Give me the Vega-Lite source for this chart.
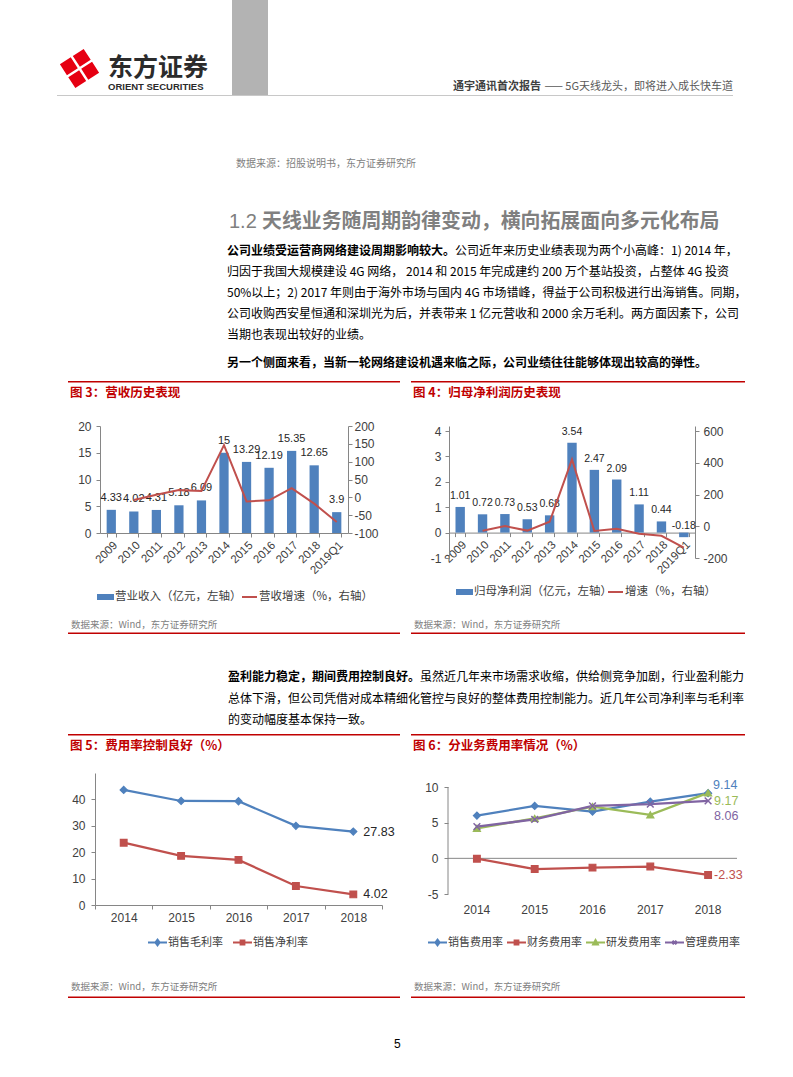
{
"$schema": "https://vega.github.io/schema/vega-lite/v6.json",
"padding": 0,
"background": "#ffffff",
"datasets": {
 "rev": [
  {"year":"2009","rev":4.33,"g":null},
  {"year":"2010","rev":4.02,"g":-7.2},
  {"year":"2011","rev":4.31,"g":7.2},
  {"year":"2012","rev":5.18,"g":20.2},
  {"year":"2013","rev":6.09,"g":17.6},
  {"year":"2014","rev":15,"g":146.3},
  {"year":"2015","rev":13.29,"g":-11.4},
  {"year":"2016","rev":12.19,"g":-8.3},
  {"year":"2017","rev":15.35,"g":25.9},
  {"year":"2018","rev":12.65,"g":-17.6},
  {"year":"2019Q1","rev":3.9,"g":-69}
 ],
 "np": [
  {"year":"2009","np":1.01,"g":null},
  {"year":"2010","np":0.72,"g":-28.7},
  {"year":"2011","np":0.73,"g":1.4},
  {"year":"2012","np":0.53,"g":-27.4},
  {"year":"2013","np":0.68,"g":28.3},
  {"year":"2014","np":3.54,"g":420.6},
  {"year":"2015","np":2.47,"g":-30.2},
  {"year":"2016","np":2.09,"g":-15.4},
  {"year":"2017","np":1.11,"g":-46.9},
  {"year":"2018","np":0.44,"g":-60.4},
  {"year":"2019Q1","np":-0.18,"g":-134}
 ],
 "margin": [
  {"year":"2014","s":"销售毛利率","v":43.6},
  {"year":"2015","s":"销售毛利率","v":39.4},
  {"year":"2016","s":"销售毛利率","v":39.3},
  {"year":"2017","s":"销售毛利率","v":30},
  {"year":"2018","s":"销售毛利率","v":27.83},
  {"year":"2014","s":"销售净利率","v":23.6},
  {"year":"2015","s":"销售净利率","v":18.6},
  {"year":"2016","s":"销售净利率","v":17.1},
  {"year":"2017","s":"销售净利率","v":7.2},
  {"year":"2018","s":"销售净利率","v":4.02}
 ],
 "fee": [
  {"year":"2014","s":"销售费用率","v":5.99},
  {"year":"2015","s":"销售费用率","v":7.35},
  {"year":"2016","s":"销售费用率","v":6.55},
  {"year":"2017","s":"销售费用率","v":7.95},
  {"year":"2018","s":"销售费用率","v":9.14},
  {"year":"2014","s":"财务费用率","v":-0.05},
  {"year":"2015","s":"财务费用率","v":-1.5},
  {"year":"2016","s":"财务费用率","v":-1.3},
  {"year":"2017","s":"财务费用率","v":-1.15},
  {"year":"2018","s":"财务费用率","v":-2.33},
  {"year":"2014","s":"研发费用率","v":4.2},
  {"year":"2015","s":"研发费用率","v":5.6},
  {"year":"2016","s":"研发费用率","v":7.25},
  {"year":"2017","s":"研发费用率","v":6.1},
  {"year":"2018","s":"研发费用率","v":9.17},
  {"year":"2014","s":"管理费用率","v":4.45},
  {"year":"2015","s":"管理费用率","v":5.45},
  {"year":"2016","s":"管理费用率","v":7.35},
  {"year":"2017","s":"管理费用率","v":7.6},
  {"year":"2018","s":"管理费用率","v":8.06}
 ]
},
"spacing": 47, "bounds": "flush",
"vconcat": [
 {"hconcat":[
  {"width":232,"height":47,"data":{"values":[]},"mark":"text","view":{"fill":"#ffffff"}},
  {"width":36,"height":95,"data":{"values":[]},"mark":"text","view":{"fill":"#b3b3b3"}}
 ],"spacing":0,"bounds":"flush"},
 {"vconcat":[
  {"hconcat":[
   {"width":57,"height":43,"data":{"values":[]},"mark":"text"},
   {"width":45,"height":43,"data":{"values":[{}]},"mark":{"type":"point","shape":"M0,-0.92L0.42,-0.5L0,-0.08L-0.42,-0.5ZM0.92,0L0.5,0.42L0.08,0L0.5,-0.42ZM0,0.92L-0.42,0.5L0,0.08L0.42,0.5ZM-0.92,0L-0.5,-0.42L-0.08,0L-0.5,0.42Z","size":1900,"filled":true,"color":"#e60012","opacity":1,"angle":12}},
   {"width":130,"height":43,"data":{"values":[]},"mark":"text","title":{"text":"东方证券","subtitle":"ORIENT  SECURITIES","fontSize":25,"fontWeight":"bold","color":"#2b2b2b","subtitleFontSize":9.5,"subtitleFontWeight":"bold","subtitleColor":"#2b2b2b","subtitleFont":"Liberation Sans","subtitlePadding":1,"offset":-44,"dx":6}},
   {"width":221,"height":43,"data":{"values":[]},"mark":"text"},
   {"width":1,"height":43,"data":{"values":[]},"mark":"text","title":{"text":"通宇通讯首次报告","fontSize":11,"fontWeight":"bold","color":"#404040","offset":-44.5}},
   {"width":279,"height":43,"data":{"values":[]},"mark":"text","title":{"text":"—— 5G天线龙头，即将进入成长快车道","fontSize":11,"color":"#595959","anchor":"end","offset":-44.5}}
  ],"spacing":0,"bounds":"flush"},
  {"vconcat":[
   {"hconcat":[
    {"width":57,"height":1,"data":{"values":[]},"mark":"text"},
    {"width":676,"height":1,"data":{"values":[]},"mark":"text","view":{"fill":"#c8c8c8"}}
   ],"spacing":0,"bounds":"flush"},
   {"vconcat":[
    {"hconcat":[
     {"width":223,"height":285,"data":{"values":[]},"mark":"text"},
     {"width":1,"height":285,"data":{"values":[]},"mark":"text","title":{"text":"数据来源：招股说明书，东方证券研究所","fontSize":10,"color":"#7f7f7f","offset":-73,"dx":13}},
     {"width":1,"height":285,"data":{"values":[]},"mark":"text","title":{"text":"1.2","font":"Liberation Sans","fontSize":20,"color":"#808080","offset":-136,"dx":5}},
     {"width":1,"height":285,"data":{"values":[]},"mark":"text","title":{"text":"天线业务随周期韵律变动，横向拓展面向多元化布局","fontSize":19.9,"fontWeight":"bold","color":"#808080","offset":-136,"dx":37}},
     {"width":1,"height":285,"data":{"values":[]},"mark":"text","title":{"text":["归因于我国大规模建设 4G 网络， 2014 和 2015 年完成建约 200 万个基站投资，占整体 4G 投资","50%以上；2) 2017 年则由于海外市场与国内 4G 市场错峰，得益于公司积极进行出海销售。同期，","公司收购西安星恒通和深圳光为后，并表带来 1 亿元营收和 2000 余万毛利。两方面因素下，公司","当期也表现出较好的业绩。"],"fontSize":12,"lineHeight":21,"offset":-246,"dx":1}},
     {"width":1,"height":285,"data":{"values":[]},"mark":"text","title":{"text":"另一个侧面来看，当新一轮网络建设机遇来临之际，公司业绩往往能够体现出较高的弹性。","fontSize":12,"fontWeight":"bold","offset":-274,"dx":0}},
     {"width":228,"height":285,"data":{"values":[]},"mark":"text","title":{"text":"公司业绩受运营商网络建设周期影响较大。","fontSize":12,"fontWeight":"bold","offset":-162,"dx":-1}},
     {"width":1,"height":285,"data":{"values":[]},"mark":"text","title":{"text":"公司近年来历史业绩表现为两个小高峰：1) 2014 年，","fontSize":12,"offset":-162,"dx":-1}}
    ],"spacing":0,"bounds":"flush"},
    {"vconcat":[
     {"hconcat":[
      {"width":68,"height":1.5,"data":{"values":[]},"mark":"text"},
      {"width":332,"height":1.5,"data":{"values":[]},"mark":"text","view":{"fill":"#c00000"}},
      {"width":11,"height":1.5,"data":{"values":[]},"mark":"text"},
      {"width":334,"height":1.5,"data":{"values":[]},"mark":"text","view":{"fill":"#c00000"}}
     ],"spacing":0,"bounds":"flush"},
     {"vconcat":[
      {"hconcat":[
       {"width":68,"height":43.5,"data":{"values":[]},"mark":"text"},
       {"width":343,"height":43.5,"data":{"values":[]},"mark":"text","title":{"text":"图 3：营收历史表现","fontSize":12.5,"fontWeight":"bold","color":"#c00000","offset":-16.5,"dx":2}},
       {"width":1,"height":43.5,"data":{"values":[]},"mark":"text","title":{"text":"图 4：归母净利润历史表现","fontSize":12.5,"fontWeight":"bold","color":"#c00000","offset":-16.5,"dx":2}}
      ],"spacing":0,"bounds":"flush"},
      {"vconcat":[
       {"hconcat":[
        {"width":100,"height":132,"data":{"values":[]},"mark":"text"},
        {
         "width":248,"height":107,
         "data":{"name":"rev"},
         "layer":[
          {"encoding":{
             "x":{"field":"year","type":"ordinal","scale":{"paddingInner":0.59,"paddingOuter":0.295},"axis":{"labelAngle":-45,"tickBand":"extent","title":null,"labelFontSize":11.5,"labelPadding":2}},
             "y":{"field":"rev","type":"quantitative","scale":{"domain":[0,20],"nice":false},"axis":{"values":[0,5,10,15,20],"title":null,"labelPadding":5}}
           },
           "layer":[
           {"mark":{"type":"bar","color":"#4F81BD"}},
           {"mark":{"type":"text","dy":-12,"font":"Liberation Sans","fontSize":11,"color":"#262626"},
            "encoding":{"text":{"field":"rev","type":"nominal"}}}
          ]},
          {"mark":{"type":"line","strokeWidth":2,"color":"#C0504D"},
           "encoding":{
            "x":{"field":"year","type":"ordinal"},
            "y":{"field":"g","type":"quantitative","scale":{"domain":[-100,200],"nice":false},"axis":{"orient":"right","values":[-100,-50,0,50,100,150,200],"title":null,"labelPadding":2}}}}
         ],
         "resolve":{"scale":{"y":"independent"}}
        },
        {"width":101,"height":132,"data":{"values":[]},"mark":"text"},
        {
         "width":246,"height":132,
         "data":{"name":"np"},
         "layer":[
          {"encoding":{
             "x":{"field":"year","type":"ordinal","scale":{"paddingInner":0.58,"paddingOuter":0.29},"axis":{"labelAngle":-45,"tickBand":"extent","offset":-25.4,"title":null,"labelFontSize":11.5,"labelPadding":2}},
             "y":{"field":"np","type":"quantitative","scale":{"domain":[-1,4.19685],"nice":false},"axis":{"values":[-1,0,1,2,3,4],"title":null,"labelPadding":4}}
           },
           "layer":[
           {"mark":{"type":"bar","color":"#4F81BD"}},
           {"mark":{"type":"text","dy":-11,"font":"Liberation Sans","fontSize":10.5,"color":"#262626"},
            "encoding":{"text":{"field":"np","type":"nominal"}}}
          ]},
          {"mark":{"type":"line","strokeWidth":2,"color":"#C0504D"},
           "encoding":{
            "x":{"field":"year","type":"ordinal"},
            "y":{"field":"g","type":"quantitative","scale":{"domain":[-200,631.5],"nice":false},"axis":{"orient":"right","values":[-200,0,200,400,600],"title":null,"labelPadding":4}}}}
         ],
         "resolve":{"scale":{"y":"independent"}}
        }
       ],"spacing":0,"bounds":"flush"},
       {"vconcat":[
        {"hconcat":[
         {"width":98,"height":14,"data":{"values":[]},"mark":"text"},
         {"width":288,"height":14,
          "data":{"values":[{"k":"营业收入（亿元，左轴）"},{"k":"营收增速（%，右轴）"}]},
          "encoding":{"x":{"field":"k","type":"nominal","bandPosition":0,"scale":{"type":"band","domain":["营业收入（亿元，左轴）","营收增速（%，右轴）"],"paddingInner":0,"paddingOuter":0},"axis":null}},
          "layer":[
           {"mark":{"type":"point","filled":true,"opacity":1,"size":225,"strokeWidth":2,"xOffset":7.5},
            "encoding":{
             "color":{"field":"k","type":"nominal","scale":{"domain":["营业收入（亿元，左轴）","营收增速（%，右轴）","归母净利润（亿元，左轴）","增速（%，右轴）","销售毛利率","销售净利率","销售费用率","财务费用率","研发费用率","管理费用率"],"range":["#4F81BD","#C0504D","#4F81BD","#C0504D","#4F81BD","#C0504D","#4F81BD","#C0504D","#9BBB59","#8064A2"]},"legend":null},
             "stroke":{"field":"k","type":"nominal","scale":{"domain":["营业收入（亿元，左轴）","营收增速（%，右轴）","归母净利润（亿元，左轴）","增速（%，右轴）","销售毛利率","销售净利率","销售费用率","财务费用率","研发费用率","管理费用率"],"range":["#4F81BD","#C0504D","#4F81BD","#C0504D","#4F81BD","#C0504D","#4F81BD","#C0504D","#9BBB59","#8064A2"]},"legend":null},
             "shape":{"field":"k","type":"nominal","scale":{"domain":["营业收入（亿元，左轴）","营收增速（%，右轴）","归母净利润（亿元，左轴）","增速（%，右轴）","销售毛利率","销售净利率","销售费用率","财务费用率","研发费用率","管理费用率"],"range":["M-1,-0.27L1,-0.27L1,0.27L-1,0.27Z","M-1,0L1,0","M-1,-0.27L1,-0.27L1,0.27L-1,0.27Z","M-1,0L1,0","M-1,0L1,0M0,-0.3L0.22,0L0,0.3L-0.22,0Z","M-1,0L1,0M-0.2,-0.2L0.2,-0.2L0.2,0.2L-0.2,0.2Z","M-1,0L1,0M0,-0.3L0.22,0L0,0.3L-0.22,0Z","M-1,0L1,0M-0.2,-0.2L0.2,-0.2L0.2,0.2L-0.2,0.2Z","M-1,0L1,0M0,-0.26L0.25,0.2L-0.25,0.2Z","M-1,0L1,0M-0.2,-0.2L0.2,0.2M-0.2,0.2L0.2,-0.2"]},"legend":null}}},
           {"mark":{"type":"text","align":"left","dx":17,"fontSize":11.5,"color":"#404040","font":"Noto Sans CJK SC"},
            "encoding":{"text":{"field":"k","type":"nominal"}}}
          ]},
         {"width":71,"height":14,"data":{"values":[]},"mark":"text"},
         {"width":302,"height":4,
          "data":{"values":[{"k":"归母净利润（亿元，左轴）"},{"k":"增速（%，右轴）"}]},
          "encoding":{"x":{"field":"k","type":"nominal","bandPosition":0,"scale":{"type":"band","domain":["归母净利润（亿元，左轴）","增速（%，右轴）"],"paddingInner":0,"paddingOuter":0},"axis":null}},
          "layer":[
           {"mark":{"type":"point","filled":true,"opacity":1,"size":225,"strokeWidth":2,"xOffset":7.5},
            "encoding":{
             "color":{"field":"k","type":"nominal","legend":null},
             "stroke":{"field":"k","type":"nominal","legend":null},
             "shape":{"field":"k","type":"nominal","legend":null}}},
           {"mark":{"type":"text","align":"left","dx":17,"fontSize":11.5,"color":"#404040","font":"Noto Sans CJK SC"},
            "encoding":{"text":{"field":"k","type":"nominal"}}}
          ]}
        ],"spacing":0,"bounds":"flush"},
        {"vconcat":[
         {"hconcat":[
          {"width":68,"height":28.5,"data":{"values":[]},"mark":"text"},
          {"width":343,"height":28.5,"data":{"values":[]},"mark":"text","title":{"text":"数据来源：Wind，东方证券研究所","fontSize":9.5,"color":"#808080","offset":-25.75,"dx":3}},
          {"width":1,"height":28.5,"data":{"values":[]},"mark":"text","title":{"text":"数据来源：Wind，东方证券研究所","fontSize":9.5,"color":"#808080","offset":-25.75,"dx":3}}
         ],"spacing":0,"bounds":"flush"},
         {"vconcat":[
          {"hconcat":[
           {"width":68,"height":1.5,"data":{"values":[]},"mark":"text"},
           {"width":332,"height":1.5,"data":{"values":[]},"mark":"text","view":{"fill":"#c00000"}},
           {"width":11,"height":1.5,"data":{"values":[]},"mark":"text"},
           {"width":334,"height":1.5,"data":{"values":[]},"mark":"text","view":{"fill":"#c00000"}}
          ],"spacing":0,"bounds":"flush"},
          {"vconcat":[
           {"hconcat":[
            {"width":227,"height":100,"data":{"values":[]},"mark":"text"},
            {"width":1,"height":100,"data":{"values":[]},"mark":"text","title":{"text":["总体下滑，但公司凭借对成本精细化管控与良好的整体费用控制能力。近几年公司净利率与毛利率","的变动幅度基本保持一致。"],"fontSize":12,"lineHeight":21,"offset":-93,"dx":1}},
            {"width":192,"height":100,"data":{"values":[]},"mark":"text","title":{"text":"盈利能力稳定，期间费用控制良好。","fontSize":12,"fontWeight":"bold","offset":-50}},
            {"width":1,"height":100,"data":{"values":[]},"mark":"text","title":{"text":"虽然近几年来市场需求收缩，供给侧竞争加剧，行业盈利能力","fontSize":12,"offset":-50}}
           ],"spacing":0,"bounds":"flush"},
           {"vconcat":[
            {"hconcat":[
             {"width":68,"height":1.5,"data":{"values":[]},"mark":"text"},
             {"width":332,"height":1.5,"data":{"values":[]},"mark":"text","view":{"fill":"#c00000"}},
             {"width":11,"height":1.5,"data":{"values":[]},"mark":"text"},
             {"width":334,"height":1.5,"data":{"values":[]},"mark":"text","view":{"fill":"#c00000"}}
            ],"spacing":0,"bounds":"flush"},
            {"vconcat":[
             {"hconcat":[
              {"width":68,"height":37.5,"data":{"values":[]},"mark":"text"},
              {"width":343,"height":37.5,"data":{"values":[]},"mark":"text","title":{"text":"图 5：费用率控制良好（%）","fontSize":12.5,"fontWeight":"bold","color":"#c00000","offset":-16.5,"dx":2}},
              {"width":1,"height":37.5,"data":{"values":[]},"mark":"text","title":{"text":"图 6：分业务费用率情况（%）","fontSize":12.5,"fontWeight":"bold","color":"#c00000","offset":-16.5,"dx":2}}
             ],"spacing":0,"bounds":"flush"},
             {"vconcat":[
              {"hconcat":[
               {"width":95,"height":132,"data":{"values":[]},"mark":"text"},
               {
                "width":287,"height":132,
                "data":{"name":"margin"},
                "encoding":{
                 "x":{"field":"year","type":"ordinal","scale":{"paddingInner":0,"paddingOuter":0},"axis":{"labelAngle":0,"tickBand":"extent","title":null,"labelPadding":3}},
                 "y":{"field":"v","type":"quantitative","scale":{"domain":[0,50],"nice":false},"axis":{"values":[0,10,20,30,40],"title":null,"labelPadding":6}}
                },
                "layer":[
                 {"mark":{"type":"line","strokeWidth":2.25},
                  "encoding":{"color":{"field":"s","type":"nominal","legend":null}}},
                 {"transform":[{"filter":"datum.s === '销售毛利率'"}],
                  "mark":{"type":"point","shape":"diamond","filled":true,"opacity":1,"size":50,"color":"#4F81BD","stroke":"#4F81BD","strokeWidth":1.2}},
                 {"transform":[{"filter":"datum.s === '销售净利率'"}],
                  "mark":{"type":"point","shape":"square","filled":true,"opacity":1,"size":45,"color":"#C0504D","stroke":"#C0504D","strokeWidth":1.2}},
                 {"transform":[{"filter":"datum.year === '2018'"}],
                  "mark":{"type":"text","align":"left","dx":10,"font":"Liberation Sans","fontSize":12.5,"color":"#262626"},
                  "encoding":{"text":{"field":"v","type":"nominal"}}}
                ]
               },
               {"width":66,"height":132,"data":{"values":[]},"mark":"text"},
               {
                "width":289,"height":121,
                "data":{"name":"fee"},
                "layer":[
                 {"data":{"values":[{}]},"mark":{"type":"rule","color":"#868686","strokeWidth":1},
                  "encoding":{"y":{"datum":0,"type":"quantitative","axis":{"values":[-5,0,5,10],"domain":false,"title":null,"labelPadding":6}}}},
                 {"data":{"values":[{}]},"mark":{"type":"rule","color":"#868686","strokeWidth":1},
                  "encoding":{
                   "x":{"datum":"2014","type":"ordinal","bandPosition":0,"axis":{"domain":false,"ticks":false,"labelAngle":0,"labelPadding":10,"title":null}},
                   "y":{"datum":-5,"type":"quantitative","axis":{"values":[-5,0,5,10],"domain":false,"title":null,"labelPadding":6}},
                   "y2":{"datum":10}}},
                 {"mark":{"type":"line","strokeWidth":2.25},
                  "encoding":{
                   "x":{"field":"year","type":"ordinal","scale":{"paddingInner":0,"paddingOuter":0},"axis":{"domain":false,"ticks":false,"labelAngle":0,"labelPadding":10,"title":null}},
                   "y":{"field":"v","type":"quantitative","scale":{"domain":[-5,11.963],"nice":false},"axis":{"values":[-5,0,5,10],"domain":false,"title":null,"labelPadding":6}},
                   "color":{"field":"s","type":"nominal","legend":null}}},
                 {"transform":[{"filter":"datum.s === '销售费用率'"}],
                  "mark":{"type":"point","shape":"diamond","filled":true,"opacity":1,"size":50,"color":"#4F81BD","stroke":"#4F81BD","strokeWidth":1.2},
                  "encoding":{"x":{"field":"year","type":"ordinal"},"y":{"field":"v","type":"quantitative"}}},
                 {"transform":[{"filter":"datum.s === '财务费用率'"}],
                  "mark":{"type":"point","shape":"square","filled":true,"opacity":1,"size":45,"color":"#C0504D","stroke":"#C0504D","strokeWidth":1.2},
                  "encoding":{"x":{"field":"year","type":"ordinal"},"y":{"field":"v","type":"quantitative"}}},
                 {"transform":[{"filter":"datum.s === '研发费用率'"}],
                  "mark":{"type":"point","shape":"triangle-up","filled":true,"opacity":1,"size":50,"color":"#9BBB59","stroke":"#9BBB59","strokeWidth":1.2},
                  "encoding":{"x":{"field":"year","type":"ordinal"},"y":{"field":"v","type":"quantitative"}}},
                 {"transform":[{"filter":"datum.s === '管理费用率'"}],
                  "mark":{"type":"point","shape":"M-1,-1L1,1M-1,1L1,-1","filled":false,"opacity":1,"size":45,"color":"#8064A2","strokeWidth":1.5},
                  "encoding":{"x":{"field":"year","type":"ordinal"},"y":{"field":"v","type":"quantitative"}}},
                 {"transform":[{"filter":"datum.year === '2018' && datum.s === '销售费用率'"}],
                  "mark":{"type":"text","align":"left","dx":5,"dy":-8,"font":"Liberation Sans","fontSize":12.5},
                  "encoding":{"x":{"field":"year","type":"ordinal"},"y":{"field":"v","type":"quantitative"},"text":{"field":"v","type":"nominal"},"color":{"field":"s","type":"nominal","legend":null}}},
                 {"transform":[{"filter":"datum.year === '2018' && datum.s === '研发费用率'"}],
                  "mark":{"type":"text","align":"left","dx":6,"dy":8,"font":"Liberation Sans","fontSize":12.5},
                  "encoding":{"x":{"field":"year","type":"ordinal"},"y":{"field":"v","type":"quantitative"},"text":{"field":"v","type":"nominal"},"color":{"field":"s","type":"nominal","legend":null}}},
                 {"transform":[{"filter":"datum.year === '2018' && datum.s === '管理费用率'"}],
                  "mark":{"type":"text","align":"left","dx":6,"dy":15,"font":"Liberation Sans","fontSize":12.5},
                  "encoding":{"x":{"field":"year","type":"ordinal"},"y":{"field":"v","type":"quantitative"},"text":{"field":"v","type":"nominal"},"color":{"field":"s","type":"nominal","legend":null}}},
                 {"transform":[{"filter":"datum.year === '2018' && datum.s === '财务费用率'"}],
                  "mark":{"type":"text","align":"left","dx":6,"dy":0,"font":"Liberation Sans","fontSize":12.5},
                  "encoding":{"x":{"field":"year","type":"ordinal"},"y":{"field":"v","type":"quantitative"},"text":{"field":"v","type":"nominal"},"color":{"field":"s","type":"nominal","legend":null}}}
                ]
               }
              ],"spacing":0,"bounds":"flush"},
              {"vconcat":[
               {"hconcat":[
                {"width":148,"height":15,"data":{"values":[]},"mark":"text"},
                {"width":170,"height":15,
                 "data":{"values":[{"k":"销售毛利率"},{"k":"销售净利率"}]},
                 "encoding":{"x":{"field":"k","type":"nominal","bandPosition":0,"scale":{"type":"band","domain":["销售毛利率","销售净利率"],"paddingInner":0,"paddingOuter":0},"axis":null}},
                 "layer":[
                  {"mark":{"type":"point","filled":true,"opacity":1,"size":361,"strokeWidth":2,"xOffset":9.5},
                   "encoding":{
                    "color":{"field":"k","type":"nominal","legend":null},
                    "stroke":{"field":"k","type":"nominal","legend":null},
                    "shape":{"field":"k","type":"nominal","legend":null}}},
                  {"mark":{"type":"text","align":"left","dx":20,"fontSize":11,"color":"#404040","font":"Noto Sans CJK SC"},
                   "encoding":{"text":{"field":"k","type":"nominal"}}}
                 ]},
                {"width":110,"height":15,"data":{"values":[]},"mark":"text"},
                {"width":316,"height":15,
                 "data":{"values":[{"k":"销售费用率"},{"k":"财务费用率"},{"k":"研发费用率"},{"k":"管理费用率"}]},
                 "encoding":{"x":{"field":"k","type":"nominal","bandPosition":0,"scale":{"type":"band","domain":["销售费用率","财务费用率","研发费用率","管理费用率"],"paddingInner":0,"paddingOuter":0},"axis":null}},
                 "layer":[
                  {"mark":{"type":"point","filled":true,"opacity":1,"size":361,"strokeWidth":2,"xOffset":9.5},
                   "encoding":{
                    "color":{"field":"k","type":"nominal","legend":null},
                    "stroke":{"field":"k","type":"nominal","legend":null},
                    "shape":{"field":"k","type":"nominal","legend":null}}},
                  {"mark":{"type":"text","align":"left","dx":20,"fontSize":11,"color":"#404040","font":"Noto Sans CJK SC"},
                   "encoding":{"text":{"field":"k","type":"nominal"}}}
                 ]}
               ],"spacing":0,"bounds":"flush"},
               {"vconcat":[
                {"hconcat":[
                 {"width":68,"height":46.5,"data":{"values":[]},"mark":"text"},
                 {"width":343,"height":46.5,"data":{"values":[]},"mark":"text","title":{"text":"数据来源：Wind，东方证券研究所","fontSize":9.5,"color":"#808080","offset":-41.75,"dx":3}},
                 {"width":1,"height":46.5,"data":{"values":[]},"mark":"text","title":{"text":"数据来源：Wind，东方证券研究所","fontSize":9.5,"color":"#808080","offset":-41.75,"dx":3}}
                ],"spacing":0,"bounds":"flush"},
                {"vconcat":[
                 {"hconcat":[
                  {"width":68,"height":1.5,"data":{"values":[]},"mark":"text"},
                  {"width":332,"height":1.5,"data":{"values":[]},"mark":"text","view":{"fill":"#c00000"}},
                  {"width":11,"height":1.5,"data":{"values":[]},"mark":"text"},
                  {"width":334,"height":1.5,"data":{"values":[]},"mark":"text","view":{"fill":"#c00000"}}
                 ],"spacing":0,"bounds":"flush"},
                 {"hconcat":[
                  {"width":394,"height":79,"data":{"values":[]},"mark":"text"},
                  {"width":1,"height":79,"data":{"values":[]},"mark":"text","title":{"text":"5","fontSize":12,"font":"Liberation Sans","offset":-53}}
                 ],"spacing":0,"bounds":"flush"}
                ],"spacing":1.5,"bounds":"flush"}
               ],"spacing":46.5,"bounds":"flush"}
              ],"spacing":15,"bounds":"flush"}
             ],"spacing":162,"bounds":"flush"}
            ],"spacing":37.5,"bounds":"flush"}
           ],"spacing":1.5,"bounds":"flush"}
          ],"spacing":100,"bounds":"flush"}
         ],"spacing":1.5,"bounds":"flush"}
        ],"spacing":28.5,"bounds":"flush"}
       ],"spacing":14,"bounds":"flush"}
      ],"spacing":164,"bounds":"flush"}
     ],"spacing":43.5,"bounds":"flush"}
    ],"spacing":1.5,"bounds":"flush"}
   ],"spacing":285,"bounds":"flush"}
  ],"spacing":1,"bounds":"flush"}
 ],"spacing":48,"bounds":"flush"}
],
"config":{
 "view":{"stroke":null},
 "font":"Noto Sans CJK SC",
 "locale":{"number":{"decimal":".","thousands":",","grouping":[3],"currency":["",""],"minus":"-"}},
 "title":{"anchor":"start","frame":"group","orient":"top","font":"Noto Sans CJK SC","fontSize":12,"fontWeight":"normal","color":"#000000","subtitlePadding":0,"offset":0},
 "axis":{"labelFont":"Liberation Sans","labelFontSize":12,"labelColor":"#404040","domainColor":"#868686","tickColor":"#868686","tickSize":4,"grid":false,"domainWidth":1,"tickWidth":1,"labelOverlap":false}
}
}
